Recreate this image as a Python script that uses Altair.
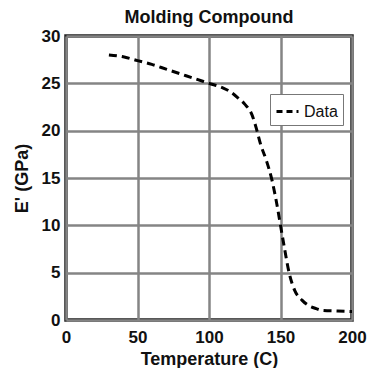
import altair as alt
import pandas as pd

temps = [30, 40, 50, 60, 70, 80, 90, 100, 110, 115, 120, 125, 130, 133, 136, 140, 144, 147, 150, 153, 156, 160, 165, 170, 175, 180, 190, 200]
modulus = [28.0, 27.8, 27.4, 27.0, 26.5, 26.0, 25.5, 25.0, 24.5, 24.1, 23.5, 22.8, 21.7, 20.3, 18.6, 16.9, 14.8, 12.6, 10.0, 7.4, 5.0, 3.1, 2.1, 1.5, 1.2, 1.0, 0.95, 0.9]
series = ["Data"] * len(temps)

df = pd.DataFrame({"T": temps, "E": modulus, "s": series})

font = "Liberation Sans"

chart = alt.Chart(df).mark_line(strokeDash=[8, 5], strokeWidth=3, interpolate="monotone").encode(
    x=alt.X("T:Q", scale=alt.Scale(domain=[0, 200], nice=False),
            axis=alt.Axis(title="Temperature (C)", values=[0, 50, 100, 150, 200],
                          grid=True, gridColor="#858585", gridWidth=2.5,
                          labelFontSize=17, labelFontWeight="bold", labelColor="#111",
                          titleFontSize=18, titleFontWeight="bold", titleColor="#111",
                          labelFont=font, titleFont=font, labelFlush=False,
                          domain=False, ticks=False, labelPadding=9, titlePadding=5)),
    y=alt.Y("E:Q", scale=alt.Scale(domain=[0, 30], nice=False),
            axis=alt.Axis(title="E' (GPa)", values=[0, 5, 10, 15, 20, 25, 30],
                          grid=True, gridColor="#858585", gridWidth=2.5,
                          labelFontSize=17, labelFontWeight="bold", labelColor="#111",
                          titleFontSize=18, titleFontWeight="bold", titleColor="#111",
                          labelFont=font, titleFont=font, labelFlush=False,
                          domain=False, ticks=False, labelPadding=6, titlePadding=10)),
    color=alt.Color("s:N", scale=alt.Scale(range=["#000000"]),
                    legend=alt.Legend(title=None, orient="none", legendX=204, legendY=58,
                                      symbolType="stroke", symbolStrokeWidth=3,
                                      symbolDash=[6, 4], symbolSize=484,
                                      labelFontSize=16, labelFont=font, labelColor="#111",
                                      strokeColor="#777", padding=5, fillColor="white",
                                      cornerRadius=0)),
).properties(
    width=286, height=284,
    title=alt.TitleParams("Molding Compound", fontSize=18, fontWeight="bold", font=font,
                          color="#111", offset=0),
    autosize=alt.AutoSizeParams(type="none"),
    padding={"left": 58, "top": 28, "right": 16, "bottom": 48},
).configure_view(stroke="#222", strokeWidth=3.5)

chart.save("out.html", embed_options={"renderer": "svg", "actions": False})
